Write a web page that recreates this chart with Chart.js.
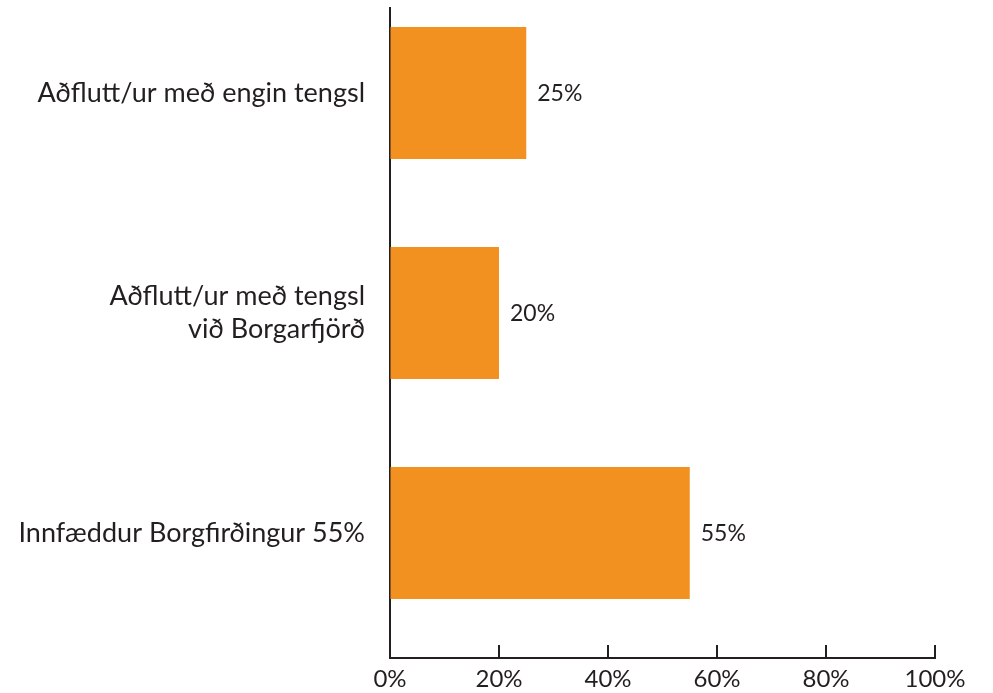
<!DOCTYPE html>
<html>
<head>
<meta charset="utf-8">
<script src="https://cdn.jsdelivr.net/npm/chart.js@4.4.0/dist/chart.umd.min.js"></script>
<style>
  html, body { margin: 0; padding: 0; background: #fff; }
  #wrap { width: 993px; height: 693px; }
</style>
</head>
<body>
<div id="wrap"><canvas id="chart" width="993" height="693"></canvas></div>
<script>
// Gögn
var flokkar = [
    "Aðflutt/ur með engin tengsl",
    ["Aðflutt/ur með tengsl", "við Borgarfjörð"],
    "Innfæddur Borgfirðingur 55%"
];
var hlutfall = [25, 20, 55];
var merki = ["25%", "20%", "55%"];
var xTicks = [0, 20, 40, 60, 80, 100];

var litur = "#f29120";
var textalitur = "#231f20";
var letur = "Lato, 'Open Sans', sans-serif";

// Gildin sett á y-ás sem tölur (0, 1, 2) svo flokkarnir sitji rétt
var punktar = hlutfall.map(function (v, i) { return { x: v, y: i }; });

// Litlu strikin á x-ásnum vísa upp
var tickPlugin = {
    id: "tickUpp",
    afterDraw: function (chart) {
        var ctx = chart.ctx;
        var xs = chart.scales.x;
        var botn = chart.chartArea.bottom;
        ctx.save();
        ctx.strokeStyle = textalitur;
        ctx.lineWidth = 2;
        xTicks.forEach(function (t) {
            if (t === 0) return;
            var px = Math.round(xs.getPixelForValue(t));
            ctx.beginPath();
            ctx.moveTo(px, botn);
            ctx.lineTo(px, botn - 13);
            ctx.stroke();
        });
        ctx.restore();
    }
};

// Prósentumerki aftan við súlurnar
var merkiPlugin = {
    id: "merki",
    afterDatasetsDraw: function (chart) {
        var ctx = chart.ctx;
        var meta = chart.getDatasetMeta(0);
        ctx.save();
        ctx.fillStyle = textalitur;
        ctx.font = "23px " + letur;
        ctx.textBaseline = "middle";
        ctx.textAlign = "left";
        meta.data.forEach(function (bar, i) {
            ctx.fillText(merki[i], bar.x + 11, bar.y + 1);
        });
        ctx.restore();
    }
};

var ctx = document.getElementById("chart").getContext("2d");
var myChart = new Chart(ctx, {
    type: "bar",
    data: {
        datasets: [{
            data: punktar,
            backgroundColor: litur,
            borderWidth: 0,
            barPercentage: 0.6,
            categoryPercentage: 1
        }]
    },
    options: {
        indexAxis: "y",
        responsive: false,
        animation: false,
        layout: { padding: { top: 8, right: 58, left: 0, bottom: 0 } },
        plugins: {
            legend: { display: false },
            tooltip: { enabled: false }
        },
        scales: {
            x: {
                type: "linear",
                min: 0,
                max: 100,
                afterBuildTicks: function (s) {
                    s.ticks = xTicks.map(function (v) { return { value: v }; });
                },
                afterFit: function (s) { s.height = 35; },
                ticks: {
                    color: textalitur,
                    font: { size: 24, family: letur },
                    padding: 7,
                    callback: function (v) { return v + "%"; }
                },
                grid: { display: true, drawOnChartArea: false, drawTicks: false },
                border: { display: true, color: textalitur, width: 2 }
            },
            y: {
                type: "linear",
                reverse: true,
                offset: false,
                min: -0.386,
                max: 2.568,
                afterBuildTicks: function (s) {
                    s.ticks = flokkar.map(function (f, i) { return { value: i }; });
                },
                afterFit: function (s) {
                    s.width = 390;
                    s.paddingTop = 0;
                    s.paddingBottom = 0;
                },
                ticks: {
                    color: textalitur,
                    font: { size: 27, family: letur },
                    padding: 25,
                    callback: function (v) { return flokkar[v]; }
                },
                grid: { display: true, offset: false, drawOnChartArea: false, drawTicks: false },
                border: { display: true, color: textalitur, width: 2 }
            }
        }
    },
    plugins: [tickPlugin, merkiPlugin]
});
</script>
</body>
</html>
